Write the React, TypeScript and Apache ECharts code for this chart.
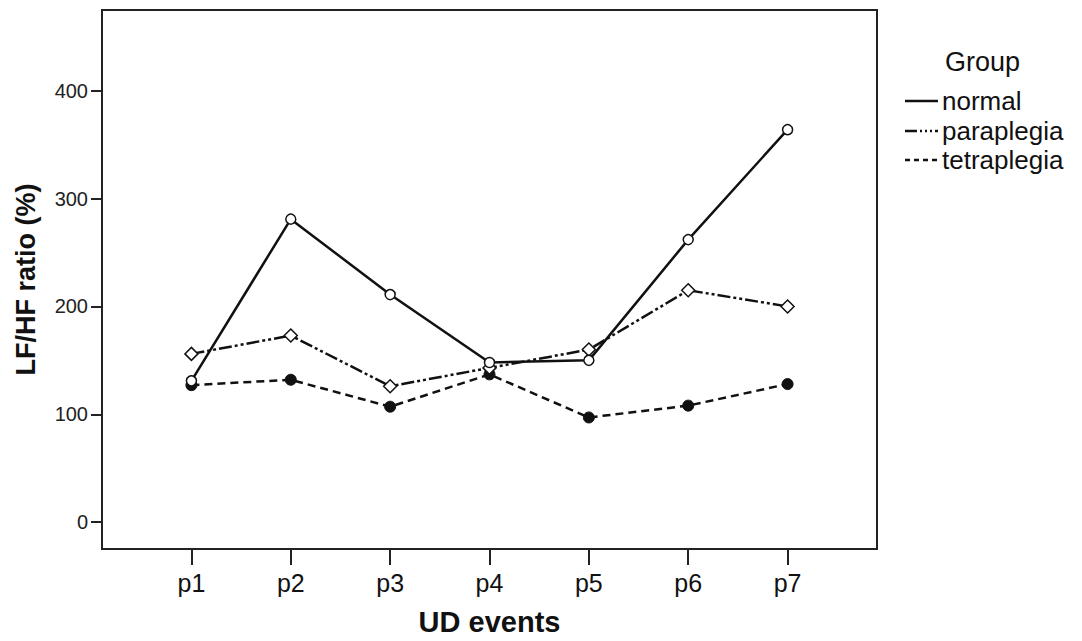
import React, { useEffect, useRef } from "react";
import * as echarts from "echarts";

const categories = ["p1", "p2", "p3", "p4", "p5", "p6", "p7"];
const normalValues = [131, 281, 211, 148, 150, 262, 364];
const paraplegiaValues = [156, 173, 126, 143, 160, 215, 200];
const tetraplegiaValues = [127, 132, 107, 137, 97, 108, 128];
const yTicks = [0, 100, 200, 300, 400];
const seriesNames = ["normal", "paraplegia", "tetraplegia"];

const FONT = "Liberation Sans, Arial, sans-serif";

export default function App() {
  const ref = useRef<HTMLDivElement>(null);
  useEffect(() => {
    if (!ref.current) return;
    const chart = echarts.init(ref.current, undefined, { renderer: "svg" });
    const xPos = categories.map((_, i) => i + 1);
    const toData = (vals: number[]) => vals.map((v, i) => [xPos[i], v]);
    const lineColor = "#111";
    const legendY = [101, 131, 160];
    const dashes: any[] = ["solid", [13, 3, 3, 3, 3, 3], [8, 5]];
    const legendDashes: any[] = [null, [12, 3, 2, 3, 2, 3, 2, 3], [5, 4]];
    chart.setOption({
      animation: false,
      backgroundColor: "#fff",
      textStyle: { fontFamily: FONT },
      grid: {
        left: 102,
        top: 10,
        right: 205,
        bottom: 87,
        show: true,
        borderColor: "#222",
        borderWidth: 2,
        backgroundColor: "transparent",
      },
      xAxis: {
        type: "value",
        min: 0.1,
        max: 7.9,
        name: "UD events",
        nameLocation: "middle",
        nameGap: 58,
        nameTextStyle: { fontSize: 29, fontWeight: "bold", color: "#111", fontFamily: FONT },
        axisLine: { show: true, onZero: false, lineStyle: { color: "#222", width: 2 } },
        axisTick: {
          show: true,
          customValues: xPos,
          length: 16,
          lineStyle: { color: "#222", width: 2 },
        },
        axisLabel: {
          customValues: xPos,
          formatter: (v: number) => categories[Math.round(v) - 1] ?? "",
          fontSize: 25,
          color: "#111",
          margin: 21,
          fontFamily: FONT,
        },
        splitLine: { show: false },
      },
      yAxis: {
        type: "value",
        min: -25,
        max: 475,
        name: "LF/HF ratio (%)",
        nameLocation: "middle",
        nameGap: 63,
        nameTextStyle: { fontSize: 27, fontWeight: "bold", color: "#111", fontFamily: FONT },
        axisLine: { show: true, onZero: false, lineStyle: { color: "#222", width: 2 } },
        axisTick: {
          show: true,
          customValues: yTicks,
          length: 11,
          lineStyle: { color: "#222", width: 2 },
        },
        axisLabel: {
          customValues: yTicks,
          fontSize: 20,
          color: "#222",
          margin: 14,
          fontFamily: FONT,
        },
        splitLine: { show: false },
      },
      series: [
        {
          name: seriesNames[0],
          type: "line",
          data: toData(normalValues),
          symbol: "circle",
          symbolSize: 10,
          lineStyle: { color: lineColor, width: 2.5, type: "solid" },
          itemStyle: { color: "#fff", borderColor: lineColor, borderWidth: 1.5 },
          z: 3,
        },
        {
          name: seriesNames[1],
          type: "line",
          data: toData(paraplegiaValues),
          symbol: "diamond",
          symbolSize: 13,
          lineStyle: { color: lineColor, width: 2.5, type: dashes[1] },
          itemStyle: { color: "#fff", borderColor: lineColor, borderWidth: 1.5 },
          z: 2,
        },
        {
          name: seriesNames[2],
          type: "line",
          data: toData(tetraplegiaValues),
          symbol: "circle",
          symbolSize: 11,
          lineStyle: { color: lineColor, width: 2.5, type: dashes[2] },
          itemStyle: { color: lineColor, borderColor: lineColor, borderWidth: 1 },
          z: 1,
        },
      ],
      graphic: [
        {
          type: "text",
          x: 945,
          y: 62,
          style: { text: "Group", fontSize: 27, fill: "#111", fontFamily: FONT, verticalAlign: "middle" },
        },
        ...seriesNames.flatMap((name, i) => [
          {
            type: "line",
            shape: { x1: 905, y1: legendY[i], x2: 938, y2: legendY[i] },
            style: { stroke: lineColor, lineWidth: 2.5, lineDash: legendDashes[i] },
          },
          {
            type: "text",
            x: 942,
            y: legendY[i],
            style: {
              text: name,
              fontSize: 26,
              fill: "#111",
              fontFamily: FONT,
              verticalAlign: "middle",
            },
          },
        ]),
      ],
    });
    return () => chart.dispose();
  }, []);
  return (
    <div
      ref={ref}
      style={{ position: "fixed", left: 0, top: 0, width: 1082, height: 641 }}
    />
  );
}
